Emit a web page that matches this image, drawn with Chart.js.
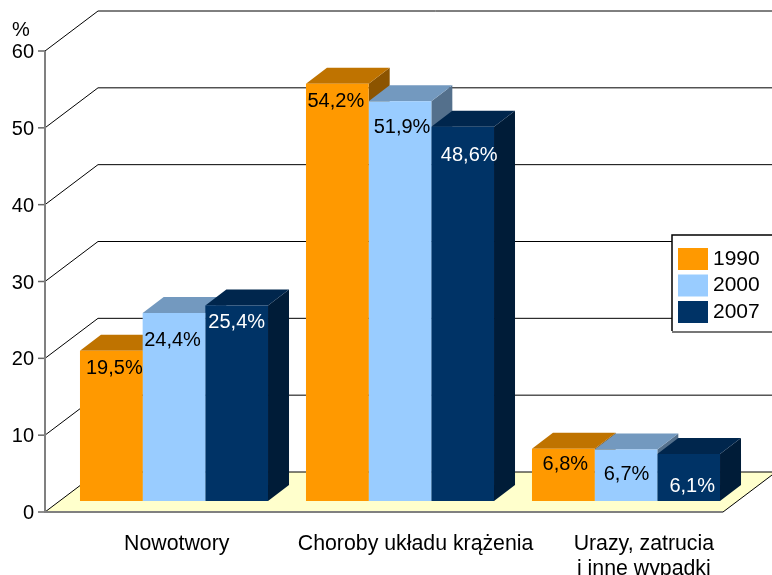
<!DOCTYPE html>
<html>
  <head>
    <meta charset="UTF-8">
    <title>Wykres</title>
    <script src="https://cdn.jsdelivr.net/npm/chart.js"></script>
    <style>
      html, body { margin: 0; padding: 0; background: #fff; }
      canvas { display: block; }
    </style>
  </head>

  <body>
    <canvas id="chart" width="772" height="575"></canvas>

    <script>
      // data
      const categories = [['Nowotwory'], ['Choroby układu krążenia'], ['Urazy, zatrucia', 'i inne wypadki']];
      const years = ['1990', '2000', '2007'];
      const values1990 = [19.5, 54.2, 6.8];
      const values2000 = [24.4, 51.9, 6.7];
      const values2007 = [25.4, 48.6, 6.1];
      const yTicks = [0, 10, 20, 30, 40, 50, 60];
      const yUnit = '%';

      // look and placement
      const fontFamily = '"Liberation Sans", Arial, sans-serif';
      const barColors = ['#FF9900', '#99CCFF', '#003366'];
      const labelColors = ['#000', '#000', '#fff'];
      const labelShiftX = [[3, -1.5, 2], [-1.5, 2, 0.5], [0, 6.5, 3.5]];
      const labelDropY = [[18, 18, 16], [27, 26, 25], [17, 29, 32]];
      const categoryLabelAt = [0.012, 1.069, 2.079];

      const frontX = 45, floorEndX = 723;
      const wallDx = 53, wallDy = -40;
      const barDx = 21, barDy = -16;

      function shade(hex, k) {
        const n = parseInt(hex.slice(1), 16);
        const c = [n >> 16, (n >> 8) & 255, n & 255].map(v => Math.round(v * k));
        return 'rgb(' + c.join(',') + ')';
      }

      function poly(ctx, pts, fill) {
        ctx.beginPath();
        pts.forEach((p, i) => i ? ctx.lineTo(p[0], p[1]) : ctx.moveTo(p[0], p[1]));
        ctx.closePath();
        ctx.fillStyle = fill;
        ctx.fill();
      }

      function line(ctx, pts, color, width) {
        ctx.beginPath();
        pts.forEach((p, i) => i ? ctx.lineTo(p[0], p[1]) : ctx.moveTo(p[0], p[1]));
        ctx.strokeStyle = color;
        ctx.lineWidth = width;
        ctx.stroke();
      }

      const chart3d = {
        id: 'chart3d',
        afterLayout(chart) {
          // legend sits on top of the wall, not in its own layout slot
          const lg = chart.legend;
          const pad = lg.options.labels.padding;
          lg.left = 683.5 - pad;
          lg.top = 248.5 - pad;
          lg.right = lg.left + 89;
          lg.bottom = lg.top + 100;
        },
        beforeDraw(chart) {
          const ctx = chart.ctx;
          const y = chart.scales.y;
          const y0 = y.getPixelForValue(0);
          const yTop = y.getPixelForValue(yTicks[yTicks.length - 1]);
          const backRight = floorEndX + wallDx;
          ctx.save();

          poly(ctx, [[frontX, y0], [frontX + wallDx, y0 + wallDy], [backRight, y0 + wallDy], [floorEndX, y0]], '#FFFFCC');

          yTicks.forEach(t => {
            const py = y.getPixelForValue(t);
            line(ctx, [[frontX, py], [frontX + wallDx, py + wallDy], [backRight, py + wallDy]], '#000', 1);
            line(ctx, [[frontX - 7, py], [frontX, py]], '#666', 1.5);
          });
          line(ctx, [[floorEndX, y0], [floorEndX + wallDx, y0 + wallDy]], '#000', 1);
          line(ctx, [[frontX, yTop], [frontX, y0], [floorEndX, y0]], '#808080', 2);

          // legend frame
          ctx.fillStyle = '#fff';
          ctx.fillRect(672, 235, 110, 97);
          line(ctx, [[772, 235], [672, 235], [672, 331]], '#000', 1.5);
          line(ctx, [[672, 332], [772, 332]], '#777', 2);

          ctx.fillStyle = '#000';
          ctx.font = '20px ' + fontFamily;
          ctx.textAlign = 'center';
          ctx.textBaseline = 'middle';
          ctx.fillText(yUnit, 21, 30);
          ctx.restore();
        },
        beforeDatasetsDraw(chart) {
          const ctx = chart.ctx;
          chart.data.datasets.forEach((ds, d) => {
            chart.getDatasetMeta(d).data.forEach(bar => {
              const l = bar.x - bar.width / 2, r = bar.x + bar.width / 2;
              poly(ctx, [[r, bar.y], [r + barDx, bar.y + barDy], [r + barDx, bar.base + barDy], [r, bar.base]], shade(barColors[d], 0.55));
              poly(ctx, [[l, bar.y], [l + barDx, bar.y + barDy], [r + barDx, bar.y + barDy], [r, bar.y]], shade(barColors[d], 0.75));
            });
          });
        },
        afterDatasetsDraw(chart) {
          const ctx = chart.ctx;
          ctx.save();
          ctx.font = '20px ' + fontFamily;
          ctx.textAlign = 'center';
          ctx.textBaseline = 'middle';
          chart.data.datasets.forEach((ds, d) => {
            ctx.fillStyle = labelColors[d];
            chart.getDatasetMeta(d).data.forEach((bar, i) => {
              const text = ds.data[i].toFixed(1).replace('.', ',') + '%';
              ctx.fillText(text, bar.x + labelShiftX[d][i], bar.y + labelDropY[d][i]);
            });
          });
          ctx.restore();
        }
      };

      const seriesValues = [values1990, values2000, values2007];

      new Chart(document.getElementById('chart'), {
        type: 'bar',
        plugins: [chart3d],
        data: {
          labels: categories,
          datasets: years.map((year, d) => ({
            label: year,
            data: seriesValues[d],
            backgroundColor: barColors[d],
            borderWidth: 0,
            xAxisID: 'x',
            yAxisID: 'yBars',
            categoryPercentage: 0.832,
            barPercentage: 1
          }))
        },
        options: {
          responsive: false,
          animation: false,
          events: [],
          layout: { padding: { top: 51, right: 33 } },
          plugins: {
            tooltip: { enabled: false },
            legend: {
              position: 'chartArea',
              align: 'start',
              labels: {
                color: '#000',
                font: { family: fontFamily, size: 21 },
                boxWidth: 19,
                boxHeight: 11,
                padding: 5.5,
                // thick stroke in the fill colour gives the wide swatch and the short gap before the text
                generateLabels(chart) {
                  return Chart.defaults.plugins.legend.labels.generateLabels(chart).map((item, d) => ({
                    ...item,
                    strokeStyle: barColors[d],
                    lineWidth: 11
                  }));
                }
              }
            }
          },
          scales: {
            // bars stand on a plane behind the front edge, so they get their own hidden axes
            x: { type: 'category', display: false },
            yBars: { type: 'linear', display: false, min: -1.43, max: 58.44 },
            xLabels: {
              type: 'linear',
              position: 'bottom',
              offset: false,
              min: -0.5,
              max: 2.5,
              afterBuildTicks(scale) { scale.ticks = categoryLabelAt.map(v => ({ value: v })); },
              afterFit(scale) { scale.height = 63; },
              grid: { display: false, drawTicks: false },
              border: { display: false },
              ticks: {
                autoSkip: false,
                maxRotation: 0,
                padding: 19,
                color: '#000',
                font: { family: fontFamily, size: 21.3 },
                callback: (v, i) => categories[i]
              }
            },
            y: {
              type: 'linear',
              position: 'left',
              min: 0,
              max: 60,
              afterBuildTicks(scale) { scale.ticks = yTicks.map(v => ({ value: v })); },
              afterFit(scale) { scale.width = 61; },
              grid: { display: false, drawTicks: false },
              border: { display: false },
              ticks: {
                padding: 27,
                labelOffset: 1.5,
                color: '#000',
                font: { family: fontFamily, size: 20 }
              }
            }
          }
        }
      });
    </script>
  </body>
</html>
